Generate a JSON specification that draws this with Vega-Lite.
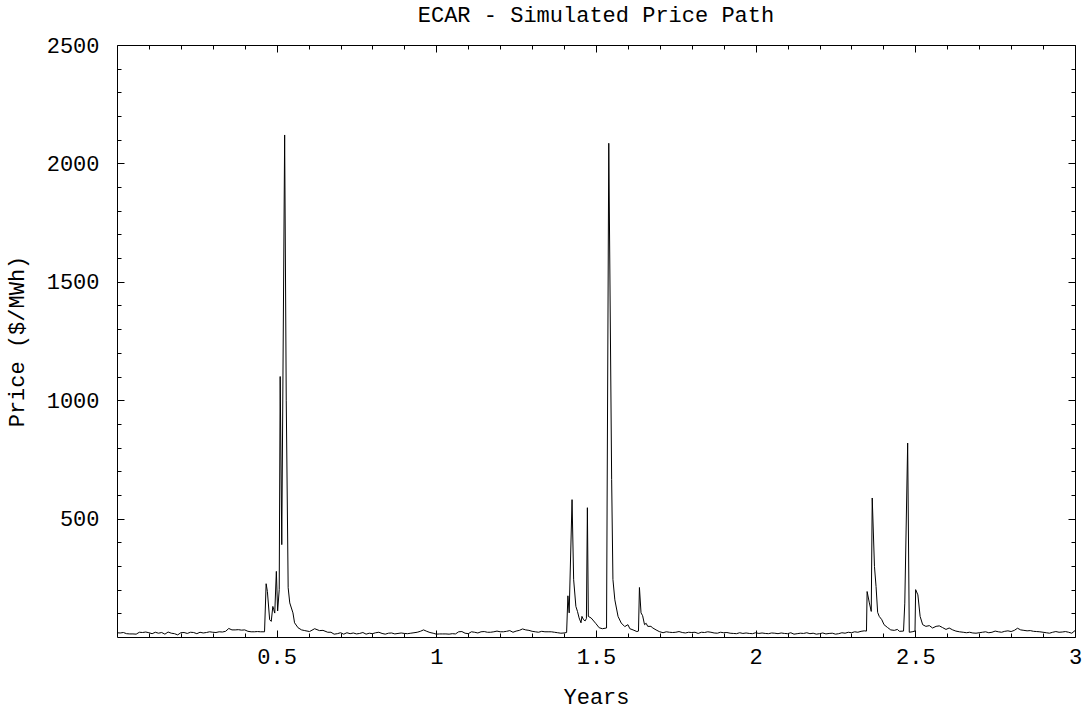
{
"$schema":"https://vega.github.io/schema/vega-lite/v6.json",
"width":958,"height":592,
"autosize":{"type":"none"},
"padding":{"left":117,"top":45,"right":12,"bottom":74},
"background":"white",
"title":{"text":"ECAR - Simulated Price Path","font":"Liberation Mono","fontSize":22,"fontWeight":"normal","color":"black","anchor":"middle","offset":7},
"config":{"view":{"stroke":null},"axis":{"labelFont":"Liberation Mono","labelFontSize":22,"labelColor":"black","titleFont":"Liberation Mono","titleFontSize":22,"titleFontWeight":"normal","titleColor":"black","domainColor":"black","tickColor":"black","grid":false,"labelFlush":false,"labelOverlap":false}},
"data":{"values":[
{"t":0,"p":18},{"t":0.01,"p":17},{"t":0.02,"p":19},{"t":0.03,"p":14},{"t":0.04,"p":13},{"t":0.05,"p":13},{"t":0.06,"p":12},{"t":0.07,"p":20},{"t":0.08,"p":19},{"t":0.09,"p":21},{"t":0.1,"p":18},{"t":0.11,"p":14},{"t":0.12,"p":20},{"t":0.13,"p":16},{"t":0.14,"p":19},{"t":0.15,"p":12},{"t":0.16,"p":21},{"t":0.17,"p":16},{"t":0.18,"p":14},{"t":0.19,"p":9},{"t":0.2,"p":18},{"t":0.21,"p":19},{"t":0.22,"p":15},{"t":0.23,"p":20},{"t":0.24,"p":19},{"t":0.25,"p":14},{"t":0.26,"p":20},{"t":0.27,"p":17},{"t":0.28,"p":19},{"t":0.29,"p":22},{"t":0.3,"p":20},{"t":0.31,"p":19},{"t":0.32,"p":22},{"t":0.33,"p":21},{"t":0.34,"p":24},{"t":0.35,"p":36},{"t":0.36,"p":30},{"t":0.37,"p":30},{"t":0.38,"p":31},{"t":0.39,"p":29},{"t":0.4,"p":30},{"t":0.41,"p":24},{"t":0.42,"p":22},{"t":0.43,"p":22},{"t":0.44,"p":23},{"t":0.45,"p":22},{"t":0.462,"p":22},
{"t":0.467,"p":225},{"t":0.471,"p":192},{"t":0.478,"p":73},{"t":0.483,"p":66},{"t":0.488,"p":129},{"t":0.491,"p":115},{"t":0.494,"p":101},{"t":0.499,"p":277},{"t":0.503,"p":110},{"t":0.508,"p":200},{"t":0.511,"p":1100},{"t":0.516,"p":390},{"t":0.525,"p":2120},{"t":0.53,"p":1000},{"t":0.536,"p":208},{"t":0.541,"p":144},{"t":0.551,"p":102},{"t":0.556,"p":60},{"t":0.567,"p":39},{"t":0.578,"p":30},{"t":0.588,"p":27},{"t":0.603,"p":23},{"t":0.619,"p":35},{"t":0.634,"p":27},{"t":0.645,"p":28},
{"t":0.66,"p":20},{"t":0.67,"p":20},{"t":0.68,"p":12},{"t":0.69,"p":14},{"t":0.7,"p":18},{"t":0.71,"p":12},{"t":0.72,"p":18},{"t":0.73,"p":14},{"t":0.74,"p":17},{"t":0.75,"p":13},{"t":0.76,"p":15},{"t":0.77,"p":19},{"t":0.78,"p":12},{"t":0.79,"p":16},{"t":0.8,"p":14},{"t":0.81,"p":18},{"t":0.82,"p":20},{"t":0.83,"p":15},{"t":0.84,"p":12},{"t":0.85,"p":16},{"t":0.86,"p":17},{"t":0.87,"p":13},{"t":0.88,"p":15},{"t":0.89,"p":17},{"t":0.9,"p":15},{"t":0.91,"p":14},{"t":0.92,"p":16},{"t":0.93,"p":18},{"t":0.94,"p":20},{"t":0.95,"p":24},{"t":0.96,"p":30},{"t":0.97,"p":24},{"t":0.98,"p":19},{"t":0.99,"p":16},{"t":1,"p":12},{"t":1.01,"p":13},{"t":1.02,"p":13},{"t":1.03,"p":13},{"t":1.04,"p":12},{"t":1.05,"p":14},{"t":1.06,"p":13},{"t":1.07,"p":22},{"t":1.08,"p":23},{"t":1.09,"p":16},{"t":1.1,"p":14},{"t":1.11,"p":22},{"t":1.12,"p":20},{"t":1.13,"p":17},{"t":1.14,"p":22},{"t":1.15,"p":23},{"t":1.16,"p":20},{"t":1.17,"p":20},{"t":1.18,"p":22},{"t":1.19,"p":25},{"t":1.2,"p":22},{"t":1.21,"p":22},{"t":1.22,"p":24},{"t":1.23,"p":27},{"t":1.24,"p":20},{"t":1.25,"p":25},{"t":1.26,"p":28},{"t":1.27,"p":34},{"t":1.28,"p":30},{"t":1.29,"p":28},{"t":1.3,"p":24},{"t":1.31,"p":22},{"t":1.32,"p":20},{"t":1.33,"p":24},{"t":1.34,"p":22},{"t":1.35,"p":22},{"t":1.36,"p":22},{"t":1.37,"p":20},{"t":1.38,"p":18},{"t":1.39,"p":16},{"t":1.4,"p":17},{"t":1.408,"p":19},
{"t":1.412,"p":174},{"t":1.416,"p":102},{"t":1.425,"p":580},{"t":1.43,"p":242},{"t":1.437,"p":129},{"t":1.442,"p":108},{"t":1.447,"p":81},{"t":1.453,"p":60},{"t":1.456,"p":87},{"t":1.461,"p":73},{"t":1.466,"p":68},{"t":1.47,"p":78},{"t":1.473,"p":546},{"t":1.476,"p":87},{"t":1.485,"p":80},{"t":1.5,"p":56},{"t":1.51,"p":39},{"t":1.52,"p":35},{"t":1.533,"p":38},{"t":1.54,"p":2085},{"t":1.549,"p":665},{"t":1.553,"p":243},{"t":1.559,"p":157},{"t":1.569,"p":87},{"t":1.579,"p":59},{"t":1.59,"p":44},{"t":1.6,"p":52},{"t":1.606,"p":35},{"t":1.616,"p":30},{"t":1.628,"p":23},{"t":1.633,"p":25},{"t":1.636,"p":209},{"t":1.641,"p":102},{"t":1.646,"p":90},{"t":1.652,"p":52},{"t":1.657,"p":58},{"t":1.662,"p":45},{"t":1.672,"p":45},{"t":1.678,"p":38},{"t":1.688,"p":30},{"t":1.698,"p":23},
{"t":1.71,"p":18},{"t":1.72,"p":22},{"t":1.73,"p":20},{"t":1.74,"p":19},{"t":1.75,"p":20},{"t":1.76,"p":23},{"t":1.77,"p":19},{"t":1.78,"p":17},{"t":1.79,"p":20},{"t":1.8,"p":19},{"t":1.81,"p":20},{"t":1.82,"p":15},{"t":1.83,"p":20},{"t":1.84,"p":19},{"t":1.85,"p":22},{"t":1.86,"p":20},{"t":1.87,"p":17},{"t":1.88,"p":16},{"t":1.89,"p":20},{"t":1.9,"p":18},{"t":1.91,"p":19},{"t":1.92,"p":16},{"t":1.93,"p":15},{"t":1.94,"p":14},{"t":1.95,"p":18},{"t":1.96,"p":15},{"t":1.97,"p":17},{"t":1.98,"p":15},{"t":1.99,"p":14},{"t":2,"p":18},{"t":2.01,"p":15},{"t":2.02,"p":17},{"t":2.03,"p":15},{"t":2.04,"p":14},{"t":2.05,"p":17},{"t":2.06,"p":16},{"t":2.07,"p":14},{"t":2.08,"p":17},{"t":2.09,"p":15},{"t":2.1,"p":14},{"t":2.11,"p":18},{"t":2.12,"p":12},{"t":2.13,"p":14},{"t":2.14,"p":16},{"t":2.15,"p":15},{"t":2.16,"p":18},{"t":2.17,"p":14},{"t":2.18,"p":16},{"t":2.19,"p":12},{"t":2.2,"p":14},{"t":2.21,"p":17},{"t":2.22,"p":13},{"t":2.23,"p":15},{"t":2.24,"p":16},{"t":2.25,"p":12},{"t":2.26,"p":14},{"t":2.27,"p":18},{"t":2.28,"p":16},{"t":2.29,"p":20},{"t":2.3,"p":18},{"t":2.31,"p":22},{"t":2.32,"p":20},{"t":2.33,"p":24},{"t":2.34,"p":26},{"t":2.347,"p":25},
{"t":2.349,"p":192},{"t":2.356,"p":144},{"t":2.362,"p":108},{"t":2.365,"p":587},{"t":2.372,"p":298},{"t":2.377,"p":213},{"t":2.382,"p":104},{"t":2.387,"p":87},{"t":2.395,"p":73},{"t":2.402,"p":52},{"t":2.413,"p":40},{"t":2.423,"p":30},{"t":2.434,"p":28},{"t":2.444,"p":32},{"t":2.45,"p":24},{"t":2.463,"p":25},{"t":2.467,"p":143},{"t":2.476,"p":819},{"t":2.481,"p":20},{"t":2.49,"p":22},{"t":2.499,"p":25},{"t":2.501,"p":200},{"t":2.508,"p":178},{"t":2.515,"p":87},{"t":2.523,"p":52},{"t":2.533,"p":45},{"t":2.544,"p":48},{"t":2.554,"p":38},{"t":2.565,"p":45},{"t":2.575,"p":47},{"t":2.585,"p":40},{"t":2.596,"p":32},{"t":2.606,"p":38},{"t":2.617,"p":30},{"t":2.627,"p":25},{"t":2.638,"p":22},{"t":2.65,"p":20},{"t":2.66,"p":18},{"t":2.67,"p":20},{"t":2.68,"p":17},
{"t":2.69,"p":16},{"t":2.7,"p":18},{"t":2.71,"p":20},{"t":2.72,"p":22},{"t":2.73,"p":18},{"t":2.74,"p":20},{"t":2.75,"p":25},{"t":2.76,"p":22},{"t":2.77,"p":20},{"t":2.78,"p":24},{"t":2.79,"p":26},{"t":2.8,"p":23},{"t":2.81,"p":28},{"t":2.82,"p":37},{"t":2.83,"p":30},{"t":2.84,"p":28},{"t":2.85,"p":26},{"t":2.86,"p":27},{"t":2.87,"p":24},{"t":2.88,"p":23},{"t":2.89,"p":22},{"t":2.9,"p":20},{"t":2.91,"p":18},{"t":2.92,"p":16},{"t":2.93,"p":20},{"t":2.94,"p":23},{"t":2.95,"p":20},{"t":2.96,"p":21},{"t":2.97,"p":23},{"t":2.98,"p":20},{"t":2.99,"p":16},{"t":3,"p":27}
]},
"layer":[
{"mark":{"type":"line","color":"black","strokeWidth":1},
 "encoding":{
  "x":{"field":"t","type":"quantitative","scale":{"domain":[0,3],"nice":false,"zero":false},
   "axis":{"orient":"bottom","values":[0.1,0.2,0.3,0.4,0.5,0.6,0.7,0.8,0.9,1,1.1,1.2,1.3,1.4,1.5,1.6,1.7,1.8,1.9,2,2.1,2.2,2.3,2.4,2.5,2.6,2.7,2.8,2.9,3],
    "labelExpr":"datum.value % 0.5 == 0 ? '' + datum.value : ''",
    "tickSize":{"condition":{"test":"datum.value % 0.5 == 0","value":-7},"value":-4},
    "labelPadding":16,"title":"Years","titlePadding":16}},
  "y":{"field":"p","type":"quantitative","scale":{"domain":[0,2500],"nice":false,"zero":false},
   "axis":{"orient":"left","values":[100,200,300,400,500,600,700,800,900,1000,1100,1200,1300,1400,1500,1600,1700,1800,1900,2000,2100,2200,2300,2400,2500],
    "labelExpr":"datum.value % 500 == 0 ? '' + datum.value : ''",
    "tickSize":{"condition":{"test":"datum.value % 500 == 0","value":-7},"value":-4},
    "labelPadding":25,"title":"Price ($/MWh)","titlePadding":18}}
 }},
{"mark":{"type":"line","strokeOpacity":0},
 "encoding":{
  "x":{"field":"t","type":"quantitative","scale":{"domain":[0,3],"nice":false,"zero":false},
   "axis":{"orient":"top","values":[0.1,0.2,0.3,0.4,0.5,0.6,0.7,0.8,0.9,1,1.1,1.2,1.3,1.4,1.5,1.6,1.7,1.8,1.9,2,2.1,2.2,2.3,2.4,2.5,2.6,2.7,2.8,2.9,3],
    "labels":false,"title":null,
    "tickSize":{"condition":{"test":"datum.value % 0.5 == 0","value":-7},"value":-4}}},
  "y":{"field":"p","type":"quantitative","scale":{"domain":[0,2500],"nice":false,"zero":false},
   "axis":{"orient":"right","values":[100,200,300,400,500,600,700,800,900,1000,1100,1200,1300,1400,1500,1600,1700,1800,1900,2000,2100,2200,2300,2400,2500],
    "labels":false,"title":null,
    "tickSize":{"condition":{"test":"datum.value % 500 == 0","value":-7},"value":-4}}}
 }}
],
"resolve":{"axis":{"x":"independent","y":"independent"}}
}
